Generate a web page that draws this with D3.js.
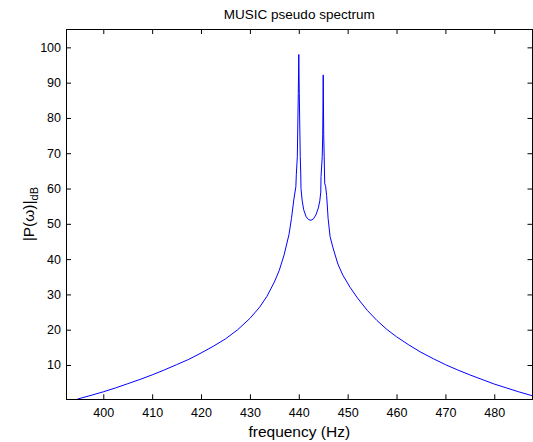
<!DOCTYPE html>
<html>
<head>
<meta charset="utf-8">
<script src="https://cdn.jsdelivr.net/npm/d3@7"></script>
<style>
  body { margin: 0; background: #fff; }
  svg { display: block; }
  text { font-family: "Liberation Sans", Arial, sans-serif; fill: #000; }
</style>
</head>
<body>
<svg id="chart" width="533" height="442"></svg>
<script>
// pseudo spectrum (Hz, dB)
var freq = [394.3, 395, 397.5, 400, 402.5, 405, 407.5, 410, 412.5, 415, 417.5, 420, 422.5, 425, 427.5, 430,
  432, 433.5, 435, 436, 437, 438, 438.5, 439, 439.4, 439.5, 439.7, 439.9, 440, 440.1, 440.3, 440.4, 440.45,
  440.7, 441, 441.5, 442, 442.5, 443, 443.5, 444, 444.3, 444.5, 444.55, 444.8, 444.9, 445, 445.1, 445.2, 445.3,
  445.5, 445.7, 446, 446.4, 447, 448, 449, 450.5, 452, 454, 456, 458, 460, 462.5, 465, 467.5,
  470, 472.5, 475, 477.5, 480, 482.5, 485, 487.5, 488];
var power = [0.1, 0.45, 1.4, 2.4, 3.5, 4.7, 5.9, 7.2, 8.6, 10.1, 11.6, 13.4, 15.3, 17.4, 20.0, 23.2,
  26.4, 29.5, 33.5, 36.8, 41.2, 47, 51.5, 57, 60.5, 64, 69, 87, 98, 87, 69, 64.4, 60,
  56.5, 54, 52, 51.2, 51, 51.4, 52.5, 54.5, 56.5, 59, 63.4, 69, 75.2, 92.2, 75.2, 69, 61.5,
  60.5, 58, 51.5, 46.4, 43.2, 38.6, 35.5, 32, 29, 25.5, 22.6, 20.1, 18, 15.7, 13.6, 11.8,
  10.1, 8.6, 7.2, 5.9, 4.6, 3.5, 2.4, 1.4, 1.2];

var xTicks = [400, 410, 420, 430, 440, 450, 460, 470, 480];
var yTicks = [10, 20, 30, 40, 50, 60, 70, 80, 90, 100];

var data = freq.map(function(f, i) { return { f: f, p: power[i] }; });

var margin = { top: 29, right: 0.5, bottom: 42.7, left: 66 };
var svg = d3.select("#chart"),
    width = +svg.attr("width") - margin.left - margin.right,
    height = +svg.attr("height") - margin.top - margin.bottom;

var g = svg.append("g")
  .attr("transform", "translate(" + margin.left + "," + margin.top + ")");

var x = d3.scaleLinear().domain([392.37, 487.82]).range([0, width]);
var y = d3.scaleLinear().domain([0.28, 105.2]).range([height, 0]);

svg.append("defs").append("clipPath").attr("id", "clip")
  .append("rect").attr("width", width).attr("height", height);

var line = d3.line()
  .x(function(d) { return x(d.f); })
  .y(function(d) { return y(d.p); });

g.append("path")
  .datum(data)
  .attr("clip-path", "url(#clip)")
  .attr("fill", "none")
  .attr("stroke", "#0000ff")
  .attr("stroke-width", 1)
  .attr("d", line);

// box axes, ticks pointing inward like matlab
function styleAxis(sel) {
  sel.select(".domain").remove();
  sel.selectAll(".tick line").attr("stroke", "#000");
  sel.selectAll(".tick text").style("font-size", "12.5px");
}

g.append("g")
  .attr("transform", "translate(0," + height + ")")
  .call(d3.axisBottom(x).tickValues(xTicks).tickSize(-5).tickPadding(9))
  .call(styleAxis);

g.append("g")
  .call(d3.axisTop(x).tickValues(xTicks).tickSize(-5).tickFormat(""))
  .call(styleAxis);

g.append("g")
  .call(d3.axisLeft(y).tickValues(yTicks).tickSize(-5).tickPadding(5))
  .call(styleAxis);

g.append("g")
  .attr("transform", "translate(" + width + ",0)")
  .call(d3.axisRight(y).tickValues(yTicks).tickSize(-5).tickFormat(""))
  .call(styleAxis);

g.append("rect")
  .attr("width", width).attr("height", height)
  .attr("fill", "none").attr("stroke", "#000").attr("stroke-width", 1)
  .attr("shape-rendering", "crispEdges");

svg.append("text")
  .attr("x", margin.left + width / 2).attr("y", 19)
  .attr("text-anchor", "middle")
  .style("font-size", "13.5px")
  .text("MUSIC pseudo spectrum");

svg.append("text")
  .attr("x", margin.left + width / 2).attr("y", 437)
  .attr("text-anchor", "middle")
  .style("font-size", "15.5px")
  .text("frequency (Hz)");

var yl = svg.append("text")
  .attr("transform", "translate(34," + (margin.top + height / 2) + ") rotate(-90)")
  .attr("text-anchor", "middle")
  .style("font-size", "15.5px");
yl.append("tspan").text("|P(\u03c9)|");
yl.append("tspan").attr("dy", 4).style("font-size", "11px").text("dB");
</script>
</body>
</html>
